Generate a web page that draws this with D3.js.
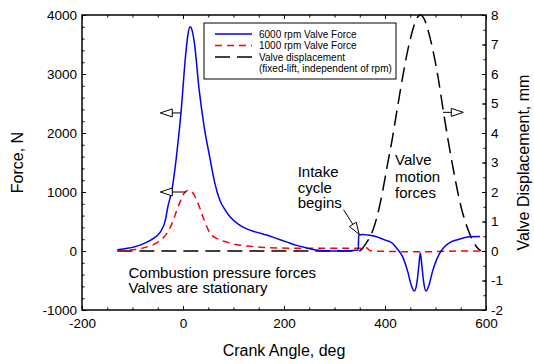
<!DOCTYPE html>
<html>
<head>
<meta charset="utf-8">
<script src="https://cdn.jsdelivr.net/npm/d3@7"></script>
<style>
  body { margin: 0; background: #fff; }
  svg { display: block; font-family: "Liberation Sans", Arial, sans-serif; }
  .axis text { font-size: 13.5px; fill: #000; }
  .axis line, .axis path { stroke: #000; }
</style>
</head>
<body>
<div id="chart"></div>
<script>
// Data
var angle6000 = [-130, -110, -85, -65, -45, -35, -30, -22, -13, -4, 5, 10, 14, 18, 22, 32, 42, 53, 63, 73, 83, 93, 110, 127, 145, 166, 186, 206, 225, 245, 260, 277, 300, 330, 347, 348, 356, 366, 380, 390, 402, 414, 420, 426, 435, 445, 452, 458, 463, 467, 470, 473, 477, 481, 487, 494, 502, 511, 520, 530, 545, 568, 588];
var force6000 = [20, 45, 100, 180, 320, 520, 750, 1030, 1600, 2340, 3300, 3680, 3800, 3740, 3560, 2730, 2100, 1590, 1150, 860, 700, 580, 450, 370, 320, 270, 210, 150, 95, 50, 20, 5, 0, 5, 15, 270, 280, 270, 250, 220, 180, 135, 80, 17, -100, -350, -580, -680, -550, -250, -35, -250, -550, -680, -580, -350, -150, 0, 90, 150, 195, 240, 245];

var angle1000 = [-130, -100, -71, -50, -32, -20, -12, -5, 0, 6, 12, 17, 22, 32, 42, 53, 70, 87, 105, 127, 160, 192, 257, 300, 345, 355, 362, 370, 378, 400, 450, 480, 520, 560, 588];
var force1000 = [0, 20, 70, 150, 300, 500, 700, 850, 950, 1010, 1030, 1010, 950, 760, 520, 310, 200, 150, 110, 85, 60, 50, 45, 45, 45, 50, 60, 10, 0, -5, -12, -12, -5, 0, 0];

var angleLift = [-130, 348, 355, 362, 370, 377, 384, 395, 404, 414, 425, 435, 445, 455, 462, 470, 478, 485, 495, 505, 515, 525, 535, 544, 552, 559, 566, 573, 580, 590];
var lift = [0, 0, 0.08, 0.25, 0.47, 0.75, 1.15, 2.0, 2.85, 3.76, 4.9, 5.9, 6.8, 7.5, 7.85, 8.0, 7.85, 7.5, 6.8, 5.9, 4.8, 3.75, 2.8, 2.0, 1.4, 1.0, 0.65, 0.38, 0.17, 0];

var xTicks = [-200, 0, 200, 400, 600];
var forceTicks = [-1000, 0, 1000, 2000, 3000, 4000];
var liftTicks = [-2, -1, 0, 1, 2, 3, 4, 5, 6, 7, 8];
var legendLabels = ['6000 rpm Valve Force', '1000 rpm Valve Force', 'Valve displacement', '(fixed-lift, independent of rpm)'];

(function () {
  var W = 534, H = 364,
      margin = {top: 15, right: 48, bottom: 54, left: 82},
      width = W - margin.left - margin.right,
      height = H - margin.top - margin.bottom,
      plain = function(d) { return String(d); };

  var x = d3.scaleLinear().domain([-200, 600]).range([0, width]),
      y = d3.scaleLinear().domain([-1000, 4000]).range([height, 0]),
      y2 = d3.scaleLinear().domain([-2, 8]).range([height, 0]);

  var svg = d3.select('#chart').append('svg')
      .attr('width', W)
      .attr('height', H);

  var g = svg.append('g')
      .attr('transform', 'translate(' + margin.left + ',' + margin.top + ')');

  function minor(lo, hi, step) {
    return d3.range(lo, hi + step / 2, step);
  }

  // minor ticks
  g.append('g').attr('class', 'axis')
    .attr('transform', 'translate(0,' + height + ')')
    .call(d3.axisBottom(x).tickValues(minor(-200, 600, 50)).tickFormat('').tickSizeInner(-2.5).tickSizeOuter(0));
  g.append('g').attr('class', 'axis')
    .call(d3.axisTop(x).tickValues(minor(-200, 600, 50)).tickFormat('').tickSizeInner(-2.5).tickSizeOuter(0));
  g.append('g').attr('class', 'axis')
    .call(d3.axisLeft(y).tickValues(minor(-1000, 4000, 200)).tickFormat('').tickSizeInner(-2.5).tickSizeOuter(0));
  g.append('g').attr('class', 'axis')
    .attr('transform', 'translate(' + width + ',0)')
    .call(d3.axisRight(y2).tickValues(minor(-2, 8, 0.5)).tickFormat('').tickSizeInner(-2.5).tickSizeOuter(0));

  // major ticks and labels
  g.append('g').attr('class', 'axis')
    .attr('transform', 'translate(0,' + height + ')')
    .call(d3.axisBottom(x).tickValues(xTicks).tickFormat(plain).tickSizeInner(-4).tickSizeOuter(0).tickPadding(8));
  g.append('g').attr('class', 'axis')
    .call(d3.axisTop(x).tickValues(xTicks).tickFormat('').tickSizeInner(-4).tickSizeOuter(0));
  g.append('g').attr('class', 'axis')
    .call(d3.axisLeft(y).tickValues(forceTicks).tickFormat(plain).tickSizeInner(-4).tickSizeOuter(0).tickPadding(5));
  g.append('g').attr('class', 'axis')
    .attr('transform', 'translate(' + width + ',0)')
    .call(d3.axisRight(y2).tickValues(liftTicks).tickFormat(plain).tickSizeInner(-4).tickSizeOuter(0).tickPadding(5));

  g.selectAll('.axis .domain').remove();

  // frame
  g.append('rect')
    .attr('width', width)
    .attr('height', height)
    .attr('fill', 'none')
    .attr('stroke', '#000')
    .attr('stroke-width', 1.5);

  // curves
  var forceLine = d3.line()
      .x(function(d) { return x(d[0]); })
      .y(function(d) { return y(d[1]); })
      .curve(d3.curveMonotoneX);
  var liftLine = d3.line()
      .x(function(d) { return x(d[0]); })
      .y(function(d) { return y2(d[1]); })
      .curve(d3.curveMonotoneX);

  g.append('path')
    .datum(d3.zip(angleLift, lift))
    .attr('d', liftLine)
    .attr('fill', 'none')
    .attr('stroke', '#000')
    .attr('stroke-width', 1.5)
    .attr('stroke-dasharray', '15,7');

  g.append('path')
    .datum(d3.zip(angle1000, force1000))
    .attr('d', forceLine)
    .attr('fill', 'none')
    .attr('stroke', '#f00')
    .attr('stroke-width', 1.5)
    .attr('stroke-dasharray', '7,5');

  g.append('path')
    .datum(d3.zip(angle6000, force6000))
    .attr('d', forceLine)
    .attr('fill', 'none')
    .attr('stroke', '#00f')
    .attr('stroke-width', 1.5);

  // hollow arrow heads
  function head(tipX, tipY, ang) {
    var len = 12, half = 4,
        c = Math.cos(ang), s = Math.sin(ang),
        bx = tipX - len * c, by = tipY - len * s;
    return 'M' + tipX + ',' + tipY +
      'L' + (bx - half * s) + ',' + (by + half * c) +
      'L' + (bx + half * s) + ',' + (by - half * c) + 'Z';
  }
  function arrow(x0, y0, x1, y1) {
    var ang = Math.atan2(y1 - y0, x1 - x0),
        bx = x1 - 12 * Math.cos(ang), by = y1 - 12 * Math.sin(ang);
    g.append('line')
      .attr('x1', x0).attr('y1', y0).attr('x2', bx).attr('y2', by)
      .attr('stroke', '#000').attr('stroke-width', 1);
    g.append('path')
      .attr('d', head(x1, y1, ang))
      .attr('fill', '#fff').attr('stroke', '#000').attr('stroke-width', 1);
  }

  arrow(x(-4), y(2340), x(-45), y(2340));
  arrow(x(5), y(1000), x(-45), y(1000));
  arrow(x(515), y2(4.7), x(555), y2(4.7));
  arrow(x(318), y(700), x(349), y(280));

  // annotations
  function note(lines, px, py, dy) {
    var t = g.append('text')
      .attr('font-size', 15)
      .attr('fill', '#000');
    lines.forEach(function(s, i) {
      t.append('tspan').attr('x', px).attr('y', py + i * dy).text(s);
    });
  }
  note(['Combustion pressure forces', 'Valves are stationary'], x(-108), y(-450), 15.5);
  note(['Intake', 'cycle', 'begins'], x(227), y(1250), 15.5);
  note(['Valve', 'motion', 'forces'], x(420), y2(2.9), 16.5);

  // legend
  var lg = g.append('g').attr('transform', 'translate(' + (204 - margin.left) + ',' + (23 - margin.top) + ')');
  lg.append('rect')
    .attr('width', 192).attr('height', 56)
    .attr('fill', '#fff').attr('stroke', '#000').attr('stroke-width', 1);
  var styles = [['#00f', null], ['#f00', '7,5'], ['#000', '15,7']];
  styles.forEach(function(st, i) {
    lg.append('line')
      .attr('x1', 11).attr('x2', 48)
      .attr('y1', 11 + i * 11.5).attr('y2', 11 + i * 11.5)
      .attr('stroke', st[0]).attr('stroke-width', 1.5)
      .attr('stroke-dasharray', st[1]);
  });
  legendLabels.forEach(function(s, i) {
    lg.append('text')
      .attr('x', 55).attr('y', 14.5 + i * 11.5)
      .attr('font-size', 10)
      .attr('fill', '#000')
      .text(s);
  });

  // axis titles
  svg.append('text')
    .attr('transform', 'translate(' + (margin.left + width / 2) + ',356)')
    .attr('text-anchor', 'middle')
    .attr('font-size', 16)
    .text('Crank Angle, deg');
  svg.append('text')
    .attr('transform', 'translate(23,' + (margin.top + height / 2) + ') rotate(-90)')
    .attr('text-anchor', 'middle')
    .attr('font-size', 16)
    .text('Force, N');
  svg.append('text')
    .attr('transform', 'translate(529,' + (margin.top + height / 2) + ') rotate(-90)')
    .attr('text-anchor', 'middle')
    .attr('font-size', 16)
    .text('Valve Displacement, mm');
})();
</script>
</body>
</html>
